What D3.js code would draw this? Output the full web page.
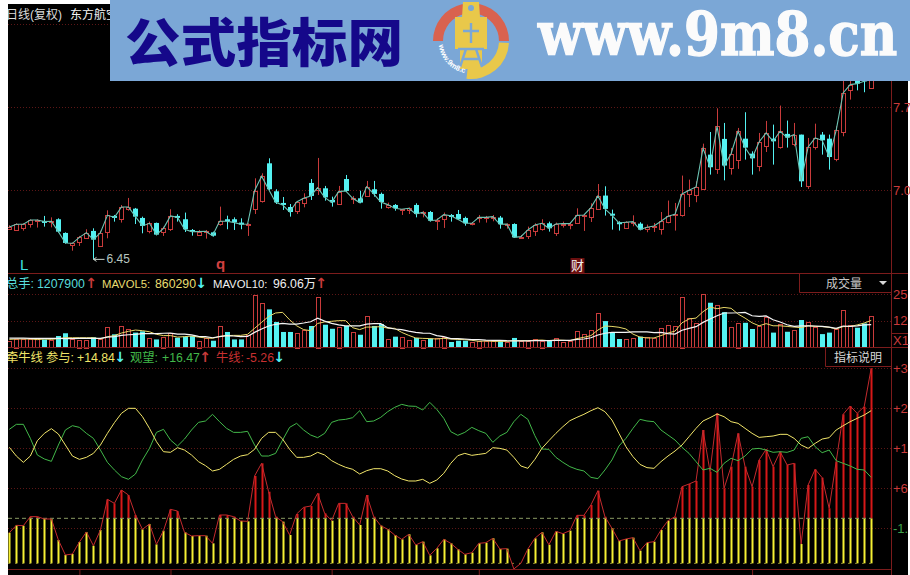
<!DOCTYPE html>
<html><head><meta charset="utf-8">
<style>html,body{margin:0;padding:0;background:#fff;overflow:hidden}svg{display:block}
text{font-family:"Liberation Sans","Noto Sans CJK SC",sans-serif}</style>
<script src="https://cdn.jsdelivr.net/npm/d3@7"></script></head><body>
<div id="chart"></div>
<script>
// ---- candlesticks (price) ----
const open=[6.708,6.697,6.711,6.745,6.773,6.773,6.761,6.787,6.672,6.565,
6.593,6.633,6.689,6.568,6.675,6.815,6.792,6.876,6.876,6.798,
6.686,6.756,6.675,6.705,6.815,6.787,6.697,6.655,6.675,6.677,
6.742,6.787,6.787,6.759,6.739,6.876,6.935,7.257,7.022,6.924,
6.890,6.859,6.921,7.092,7.036,7.047,6.949,6.921,7.125,6.957,
6.963,6.985,7.039,7.000,6.893,6.907,6.865,6.865,6.907,6.840,
6.848,6.770,6.795,6.823,6.831,6.798,6.747,6.798,6.798,6.803,
6.801,6.742,6.747,6.635,6.649,6.689,6.700,6.753,6.675,6.745,
6.745,6.753,6.817,6.809,6.873,6.986,6.834,6.762,6.711,6.759,
6.750,6.700,6.722,6.700,6.764,6.820,6.826,6.997,6.994,7.036,
7.330,7.204,7.462,7.221,7.282,7.464,7.338,7.238,7.400,7.464,
7.394,7.504,7.422,7.498,7.070,7.392,7.498,7.464,7.288,7.520,
7.876,7.960,7.966,7.896];
const close=[6.722,6.745,6.745,6.781,6.781,6.767,6.770,6.683,6.588,6.585,
6.635,6.675,6.616,6.675,6.820,6.803,6.890,6.890,6.809,6.731,
6.753,6.658,6.711,6.815,6.803,6.703,6.683,6.683,6.686,6.649,
6.770,6.770,6.761,6.745,6.747,7.027,7.148,7.039,6.929,6.907,
6.848,6.932,6.963,6.983,7.053,6.971,6.929,7.019,7.025,6.963,
6.927,7.061,7.000,6.932,6.910,6.879,6.871,6.879,6.831,6.845,
6.775,6.781,6.826,6.817,6.787,6.753,6.753,6.803,6.803,6.809,
6.745,6.747,6.635,6.641,6.697,6.739,6.753,6.711,6.747,6.750,
6.750,6.820,6.823,6.885,6.983,6.874,6.820,6.756,6.762,6.767,
6.700,6.720,6.731,6.770,6.812,6.829,7.000,7.030,7.058,7.383,
7.224,7.568,7.238,7.338,7.526,7.389,7.299,7.436,7.512,7.442,
7.526,7.473,7.498,7.106,7.394,7.470,7.450,7.310,7.534,7.848,
7.918,7.926,7.946,7.960];
const high=[6.736,6.753,6.753,6.787,6.787,6.815,6.803,6.795,6.677,6.591,
6.647,6.703,6.711,6.691,6.862,6.823,6.907,6.966,6.882,6.809,
6.767,6.759,6.725,6.871,6.829,6.843,6.705,6.697,6.697,6.683,
6.893,6.817,6.803,6.795,6.753,7.131,7.173,7.299,7.039,6.974,
6.915,6.941,7.005,7.125,7.302,7.067,6.977,7.067,7.159,6.983,
7.027,7.109,7.109,7.011,6.927,6.915,6.871,6.887,6.921,6.857,
6.857,6.795,6.843,6.831,6.865,6.809,6.764,6.823,6.815,6.823,
6.815,6.753,6.753,6.655,6.725,6.753,6.787,6.767,6.759,6.767,
6.759,6.879,6.829,6.921,7.083,7.064,6.868,6.770,6.770,6.820,
6.762,6.742,6.756,6.848,6.944,6.924,7.154,7.120,7.106,7.422,
7.520,7.719,7.596,7.386,7.554,7.686,7.358,7.512,7.613,7.582,
7.742,7.616,7.596,7.498,7.470,7.590,7.520,7.498,7.568,7.950,
7.980,7.990,8.000,8.000];
const low=[6.700,6.689,6.691,6.717,6.717,6.725,6.719,6.675,6.582,6.523,
6.563,6.624,6.45,6.557,6.627,6.767,6.759,6.859,6.747,6.669,
6.669,6.652,6.647,6.689,6.767,6.680,6.649,6.647,6.624,6.641,
6.733,6.703,6.697,6.703,6.647,6.831,6.927,7.033,6.915,6.865,
6.809,6.831,6.887,6.949,6.991,6.943,6.893,6.915,7.019,6.915,
6.921,6.977,6.977,6.876,6.876,6.859,6.823,6.831,6.803,6.803,
6.767,6.697,6.714,6.767,6.781,6.733,6.736,6.759,6.759,6.770,
6.708,6.708,6.630,6.624,6.621,6.647,6.691,6.683,6.647,6.717,
6.703,6.747,6.689,6.764,6.865,6.818,6.700,6.692,6.706,6.728,
6.694,6.678,6.680,6.658,6.753,6.692,6.809,6.890,6.930,7.033,
7.162,7.168,7.114,7.162,7.210,7.288,7.162,7.190,7.352,7.246,
7.380,7.389,7.400,7.058,7.042,7.372,7.330,7.204,7.274,7.484,
7.792,7.870,7.854,7.890];
// ---- volume panel ----
const volume=[2.8,4.1,3.9,3.7,3.7,3.7,3.4,5.3,6.6,3.9,
3.6,3.6,4.7,3.7,9.4,6.1,10.0,8.4,6.9,7.5,
4.2,3.7,5.0,6.6,4.5,5.0,5.3,3.1,4.2,3.1,
10.0,7.2,3.7,3.7,5.8,24.3,20.6,17.8,11.9,7.2,
7.2,6.9,8.1,10.0,23.7,10.6,8.7,9.7,10.0,7.2,
5.9,14.7,10.0,10.9,3.9,5.0,5.0,3.4,4.4,3.6,
4.1,4.4,5.0,2.5,3.1,3.1,2.5,3.1,2.8,2.8,
3.1,2.5,4.4,2.8,3.1,3.7,3.1,3.1,4.2,2.5,
3.0,7.5,6.2,8.1,15.9,12.3,6.9,3.9,3.9,4.2,
5.0,4.7,4.4,8.9,10.5,10.0,23.7,13.6,11.2,25.0,
20.9,19.8,16.5,9.4,11.5,11.5,8.6,10.0,14.0,6.9,
10.9,7.3,8.1,12.8,11.9,9.4,6.2,6.9,8.4,17.5,
10.5,9.2,11.2,14.7];
const mavol5=[3.7,3.9,3.9,3.9,3.6,3.9,3.7,4.1,4.5,4.5,
4.5,4.5,4.5,3.9,5.0,5.5,6.7,7.5,8.1,7.8,
7.3,6.1,5.5,5.5,4.8,5.0,5.3,4.8,4.4,4.2,
5.1,5.5,5.6,5.6,6.1,8.9,11.7,14.5,16.1,16.4,
12.9,10.1,8.3,7.8,11.2,11.9,12.2,12.5,12.5,9.2,
8.3,9.5,9.5,9.7,9.0,8.9,7.0,5.6,4.4,4.2,
4.1,3.9,4.2,3.9,3.7,3.6,3.3,2.8,3.0,2.8,
2.8,2.8,3.1,3.1,3.1,3.3,3.4,3.1,3.4,3.3,
3.1,4.1,4.7,5.5,8.1,10.0,9.8,9.4,8.6,6.2,
4.8,4.4,4.4,5.5,6.7,7.6,11.5,13.3,13.7,16.7,
18.9,18.1,18.7,18.3,15.6,13.7,11.5,10.1,11.1,10.1,
10.1,9.8,9.5,9.2,10.1,9.8,9.7,9.4,8.6,9.7,
9.8,10.5,11.4,12.6];
const mavol10=[4.3,4.3,4.3,4.2,4.2,4.2,4.2,4.2,4.1,4.1,
4.2,4.2,4.2,4.2,4.8,5.0,5.6,5.9,6.1,6.4,
6.4,6.4,6.6,6.7,6.2,6.2,5.8,5.1,5.0,4.5,
5.0,5.5,5.3,5.0,5.1,7.0,8.6,10.0,10.8,11.2,
10.9,10.9,11.4,12.0,13.7,12.3,11.2,10.5,10.1,10.1,
10.1,10.9,11.1,11.1,9.2,8.6,8.3,7.6,7.0,6.7,
6.6,5.5,5.0,4.1,4.1,3.9,3.6,3.6,3.4,3.3,
3.3,3.1,3.0,3.0,3.0,3.1,3.1,3.1,3.3,3.3,
3.3,3.7,3.9,4.5,5.8,6.6,7.0,7.0,7.0,7.2,
7.3,7.2,6.9,7.0,6.4,6.2,8.0,8.9,9.7,11.7,
13.3,14.8,16.1,16.1,16.2,16.4,14.8,14.5,14.7,12.9,
11.9,10.6,9.8,10.1,10.1,10.0,9.8,9.5,8.9,10.0,
9.8,10.1,10.5,10.6];
// ---- indicator panel ----
const bull=[-2.43,-1.03,-1.09,0.64,0.64,0.19,0.19,-3.84,-6.72,-6.53,
-4.22,-2.30,-4.93,-1.92,3.96,3.19,5.75,4.79,0.96,-1.79,
-0.77,-4.67,-2.05,2.04,1.72,-2.37,-3.07,-3.01,-3.01,-4.48,
0.96,0.96,0.64,-0.19,-0.26,8.44,10.87,5.43,0.64,-0.32,
-2.88,1.15,2.43,2.68,5.11,1.28,-0.13,3.19,3.19,0.64,
-0.96,4.79,0.64,-1.09,-1.79,-2.88,-3.71,-2.75,-4.80,-4.16,
-6.78,-5.44,-3.71,-4.48,-5.63,-6.59,-6.27,-4.48,-4.35,-3.52,
-5.57,-5.50,-9.40,-8.32,-5.57,-3.52,-2.37,-4.74,-2.18,-2.62,
-2.05,0.89,0.89,2.87,5.62,0.64,-1.60,-4.03,-3.65,-3.39,
-5.89,-4.35,-4.16,-1.92,-0.13,0.64,6.39,6.90,7.48,17.26,
9.27,20.46,6.07,10.23,16.62,10.23,6.39,11.51,13.55,10.23,
13.10,10.55,10.87,-4.61,6.71,9.72,8.12,2.24,11.19,20.27,
21.86,20.46,21.74,29.1];
const watch=[17.39,18.35,18.35,15.66,12.47,11.70,11.25,14.38,17.26,18.09,
17.77,16.62,15.66,13.42,11.06,9.59,8.31,7.80,8.82,11.51,
13.74,16.81,17.39,15.34,14.19,15.53,17.26,18.73,18.99,20.27,
18.86,17.58,16.81,16.81,17.01,14.38,12.27,12.27,12.78,15.34,
17.77,18.54,17.26,16.30,15.79,16.62,18.73,19.18,19.31,19.63,
20.97,18.86,18.99,19.69,20.78,21.61,22.18,21.86,21.80,21.10,
22.57,21.22,19.50,16.94,16.24,16.81,17.77,17.13,16.62,14.90,
16.11,16.81,18.86,20.27,19.31,16.17,13.62,13.55,12.02,11.06,
10.23,9.72,9.40,8.18,7.93,9.59,11.51,14.19,15.66,17.58,
19.31,18.99,18.86,17.26,16.30,15.34,13.94,12.78,11.19,9.59,
9.91,9.14,10.87,11.83,11.38,12.27,13.62,13.74,13.42,12.98,
13.10,12.98,13.42,15.66,15.98,14.06,12.91,13.42,11.38,10.87,
10.36,9.72,9.59,8.18];
const join=[13.94,12.27,11.06,12.27,15.21,16.62,17.52,16.49,14.38,12.27,
11.63,12.02,12.78,14.38,16.62,18.67,20.46,21.42,21.42,19.82,
17.58,15.02,13.10,12.98,13.87,13.42,12.47,11.19,10.42,9.40,
9.72,10.67,11.63,12.27,12.53,13.55,15.66,16.81,16.81,15.53,
13.55,12.02,12.02,12.27,12.98,12.47,11.38,10.67,10.10,9.72,
8.82,9.46,9.84,9.84,9.40,8.50,7.86,7.48,7.48,7.80,
7.03,7.67,8.95,10.87,12.34,12.78,12.40,12.59,12.78,13.87,
13.74,13.42,12.02,10.36,9.91,11.63,13.74,15.21,16.62,17.90,
19.05,19.69,20.27,20.97,21.54,20.78,19.18,16.62,14.06,12.15,
10.67,10.04,9.91,11.19,12.27,13.23,14.38,15.98,17.58,18.99,
19.63,20.33,19.82,18.86,18.54,17.58,16.62,15.85,15.98,16.11,
16.43,16.43,15.66,14.38,13.74,14.70,15.53,15.79,17.26,18.09,
18.86,19.50,20.14,20.97];
// ---- ticks and labels ----
const priceTicks=[7.03,7.73], priceTickLabels=["7.0","7.7"];
const volTicks=[12.5,25], volTickLabels=["12","25"];
const indTicks=[-1.6,6.07,13.74,21.42,29.09], indTickLabels=["-1.","+6","+1","+2","+3"];
const dateTicks=[10,23,46,67,106];
const threshold=0.32, floorValue=-8.32, lowestPrice=6.45;

const RED="#c93b3b", CYAN="#54f2f2", GRID="#5c1616", AXIS="#7c1c1c";
const svg=d3.select("#chart").append("svg").attr("width",910).attr("height",575);
svg.append("rect").attr("width",910).attr("height",575).attr("fill","#fff");
svg.append("rect").attr("x",8).attr("y",4).attr("width",900).attr("height",571).attr("fill","#000");
svg.append("clipPath").attr("id","plot").append("rect").attr("x",8).attr("y",4).attr("width",900).attr("height",571);
const root=svg.append("g").attr("clip-path","url(#plot)");

const x=d3.scaleLinear().domain([0,123]).range([9.33,871.2]);
const cx=i=>Math.round(x(i))+0.5;
const yP=d3.scaleLinear().domain([7.03,7.73]).range([190.33,107]);
const yV=d3.scaleLinear().domain([0,25]).range([347.33,294]);
const yI=d3.scaleLinear().domain([-1.6,21.42]).range([528.33,408.33]);
const idx=d3.range(open.length);

function grid(values,y){
  root.append("g").selectAll("line").data(values).join("line")
    .attr("x1",8).attr("x2",891).attr("y1",d=>Math.round(y(d))+.5).attr("y2",d=>Math.round(y(d))+.5)
    .attr("stroke",GRID).attr("stroke-dasharray","1,2");
}
grid(priceTicks,yP); grid(volTicks,yV); grid(indTicks,yI);
root.append("line").attr("x1",8).attr("x2",891).attr("y1",24.5).attr("y2",24.5).attr("stroke",GRID).attr("stroke-dasharray","1,2");

function labelAxis(scale,vals,labs,color){
  const g=svg.append("g").attr("transform","translate(891,0)")
    .call(d3.axisRight(scale).tickValues(vals).tickSize(0).tickPadding(2).tickFormat((d,i)=>labs[i]));
  g.select(".domain").remove();
  g.selectAll("text").attr("fill",(d,i)=>typeof color==="function"?color(i):color)
    .style("font-size","13px").style("font-family",'"Liberation Sans",sans-serif');
}
labelAxis(yP,priceTicks,priceTickLabels,RED);
labelAxis(yV,volTicks,volTickLabels,RED);
labelAxis(yI,indTicks,indTickLabels,i=>i===0?"#3fa24a":RED);

// candles
const candles=root.append("g").selectAll("g").data(idx).join("g");
candles.append("line").attr("x1",cx).attr("x2",cx)
  .attr("y1",i=>yP(high[i])).attr("y2",i=>yP(low[i]))
  .attr("stroke",i=>close[i]>=open[i]?RED:CYAN);
candles.filter(i=>close[i]>=open[i]).append("rect")
  .attr("x",i=>cx(i)-2).attr("width",4)
  .attr("y",i=>Math.round(yP(close[i]))+.5)
  .attr("height",i=>Math.max(1,Math.round(yP(open[i])-yP(close[i]))))
  .attr("fill","#000").attr("stroke",RED);
candles.filter(i=>close[i]<open[i]).append("rect")
  .attr("x",i=>cx(i)-2.5).attr("width",5)
  .attr("y",i=>yP(open[i])).attr("height",i=>Math.max(2,yP(close[i])-yP(open[i])))
  .attr("fill",CYAN);
root.append("path").datum(idx).attr("fill","none").attr("stroke","#6cc4b4").attr("stroke-width",1.1)
  .attr("d",d3.line().x(i=>x(i)).y(i=>yP(close[i])));

// low annotation
const lowX=cx(low.indexOf(lowestPrice)), lowY=yP(lowestPrice);
root.append("text").attr("x",lowX+13).attr("y",lowY+4).attr("fill","#b8c8c0").style("font-size","12px").text("6.45");
root.append("path").attr("fill","none").attr("stroke","#c8d4cc")
  .attr("d",`M${lowX},${lowY}H${lowX+11}M${lowX+3},${lowY-2}L${lowX},${lowY}L${lowX+3},${lowY+2}`);

// markers
root.append("text").attr("x",20).attr("y",270).attr("fill","#3fe0e0").style("font-size","15px").text("L");
root.append("text").attr("x",216).attr("y",269).attr("fill","#d04040").style("font-size","15px").style("font-weight","bold").text("q");
root.append("rect").attr("x",570.5).attr("y",258).attr("width",14).attr("height",15).attr("fill","#6a0f0f");
root.append("text").attr("x",571).attr("y",270).attr("fill","#f4f0f0").style("font-size","13px").text("财");

// volume
const vols=root.append("g").selectAll("g").data(idx).join("g");
vols.filter(i=>close[i]>=open[i]).append("rect")
  .attr("x",i=>cx(i)-2).attr("width",4)
  .attr("y",i=>Math.round(yV(volume[i]))+.5)
  .attr("height",i=>Math.round(yV(0)-yV(volume[i])))
  .attr("fill","#000").attr("stroke",RED);
vols.filter(i=>close[i]<open[i]).append("rect")
  .attr("x",i=>cx(i)-2.5).attr("width",5)
  .attr("y",i=>yV(volume[i])).attr("height",i=>yV(0)-yV(volume[i]))
  .attr("fill",CYAN);
const volLine=arr=>d3.line().x(i=>x(i)).y(i=>yV(arr[i]));
root.append("path").datum(idx).attr("fill","none").attr("stroke","#e8d868").attr("d",volLine(mavol5));
root.append("path").datum(idx).attr("fill","none").attr("stroke","#f4f4f4").attr("stroke-width",1.2).attr("d",volLine(mavol10));

// indicator bars
const bars=root.append("g");
bars.selectAll("rect.y").data(idx.filter(i=>bull[i]>floorValue)).join("rect")
  .attr("x",i=>cx(i)-1).attr("width",2)
  .attr("y",i=>yI(Math.min(bull[i],threshold))).attr("height",i=>yI(floorValue)-yI(Math.min(bull[i],threshold)))
  .attr("fill","#f6f034");
bars.selectAll("rect.r").data(idx.filter(i=>bull[i]>threshold)).join("rect")
  .attr("x",i=>cx(i)-1).attr("width",2)
  .attr("y",i=>yI(bull[i])).attr("height",i=>yI(threshold)-yI(bull[i]))
  .attr("fill","#d81818");
root.append("line").attr("x1",8).attr("x2",x(123)).attr("y1",yI(threshold)).attr("y2",yI(threshold))
  .attr("stroke","#8a9a62").attr("stroke-dasharray","4,3");
root.append("line").attr("x1",8).attr("x2",x(123)).attr("y1",yI(floorValue)).attr("y2",yI(floorValue))
  .attr("stroke","#8a8a30").attr("stroke-dasharray","2,5");
const indLine=arr=>d3.line().x(i=>x(i)).y(i=>yI(arr[i]));
root.append("path").datum(idx).attr("fill","none").attr("stroke","#c42a2e").attr("d",indLine(bull));
root.append("path").datum(idx).attr("fill","none").attr("stroke","#42b84a").attr("d",indLine(watch));
root.append("path").datum(idx).attr("fill","none").attr("stroke","#f2e66a").attr("d",indLine(join));

// frame
const frame=svg.append("g").attr("stroke",AXIS).attr("fill","none");
frame.append("path").attr("d","M8,273.5H908M8,347.5H908M8,569.5H891M891.5,81V575");
frame.append("path").attr("d","M799.5,273V292.5H891M825.5,347V366.5H891M891,333.5H908");
const dt=svg.append("g").attr("transform","translate(0,569.5)")
  .call(d3.axisBottom(x).tickValues(dateTicks).tickSize(6).tickFormat(""));
dt.select(".domain").remove(); dt.selectAll("line").attr("stroke",AXIS);

// panel widgets
svg.append("text").attr("x",826).attr("y",288).attr("fill","#c8c8c8").style("font-size","12px").text("成交量");
svg.append("path").attr("d","M879,281h8l-4,4z").attr("fill","#d8d8d8");
svg.append("text").attr("x",834).attr("y",362).attr("fill","#d8d8d8").style("font-size","12px").text("指标说明");
svg.append("text").attr("x",893).attr("y",345).attr("fill",RED).style("font-size","13px").text("X1");

// legends
const legendTop=[["总手:",6,"#58dcdc"],["1207900",37,"#58dcdc"],["↑",91,RED],["MAVOL5:",102,"#e8dc70"],["860290",155,"#e8dc70"],["↓",201,CYAN],["MAVOL10:",213,"#f0f0f0"],["96.06万",273,"#f0f0f0"],["↑",321,RED]];
const legendInd=[["牵牛线",6,"#f0e468"],["参与:",46,"#f0e468"],["+14.84",77,"#f0e468"],["↓",120,CYAN],["观望:",130,"#42b84a"],["+16.47",162,"#42b84a"],["↑",205,RED],["牛线:",216,"#c83030"],["-5.26",246,"#c83030"],["↓",279,CYAN]];
const legends=svg.append("g").attr("clip-path","url(#plot)");
function legend(rows,y){
  const t=legends.append("g").selectAll("text").data(rows).join("text")
    .attr("y",y).attr("fill",d=>d[2]);
  t.filter(d=>d[0].length>1).attr("x",d=>d[1])
    .style("font-size",d=>d[0].startsWith("MAVOL")?"11.3px":"12.3px").text(d=>d[0]);
  t.filter(d=>d[0].length===1).attr("x",d=>d[1]).attr("text-anchor","middle")
    .style("font-family",'"DejaVu Sans"').style("font-weight","bold").style("font-size","14px").text(d=>d[0]);
}
legend(legendTop,288); legend(legendInd,362);
const head=legends.append("g");
head.append("text").attr("x",6).attr("y",19).attr("fill","#dcdcdc").style("font-size","12px").text("日线(复权)");
head.append("text").attr("x",70).attr("y",19).attr("fill","#f4f4f4").style("font-size","12px").text("东方航空");

// banner
const banner=svg.append("g");
banner.append("rect").attr("x",110).attr("y",0).attr("width",800).attr("height",81).attr("fill","#7ba7d6");
banner.append("text").attr("x",125).attr("y",62).attr("textLength",278).attr("lengthAdjust","spacingAndGlyphs").attr("fill","#15088a")
  .style("font-family",'"Noto Sans CJK SC"').style("font-weight",900).style("font-size","52px").text("公式指标网");
banner.append("text").attr("transform","translate(538,55) scale(1,1.15)")
  .attr("fill","#fbfbfb").attr("stroke","#fbfbfb").attr("stroke-width",1.2)
  .style("font-family",'"DejaVu Serif"').style("font-weight","bold").style("font-size","51.6px").text("www.9m8.cn");
const logo=banner.append("g").attr("transform","translate(471,41)");
const arc=d3.arc().innerRadius(28).outerRadius(38);
logo.append("path").attr("d",arc({startAngle:-Math.PI/2,endAngle:-0.22})).attr("fill","#d9624f");
logo.append("path").attr("d",arc({startAngle:0.22,endAngle:Math.PI/2})).attr("fill","#d9624f");
logo.append("path").attr("d",arc({startAngle:Math.PI/2+0.05,endAngle:Math.PI+0.12})).attr("fill","#e9c84a");
logo.append("path").attr("d","M-8,-39H8L9,-24H16V8H11V28H-11V8H-16V-24H-9Z").attr("fill","#e9c84a");
logo.append("circle").attr("cy",-33).attr("r",3).attr("fill","#7ba7d6");
logo.append("path").attr("d","M-8,-10H8M0,-18V2M-13,8H13M-8,18H8M-5,8L-11,26M5,8L11,26").attr("stroke","#7ba7d6").attr("stroke-width",2.4).attr("fill","none");
logo.append("path").attr("id","logoRing").attr("fill","none").attr("d","M-32,4A32,32 0 0 0 -6,32");
logo.append("text").attr("fill","#fff").style("font-size","7.5px").style("font-weight","bold")
  .append("textPath").attr("href","#logoRing").text("www.9m8.cn");
</script></body></html>
